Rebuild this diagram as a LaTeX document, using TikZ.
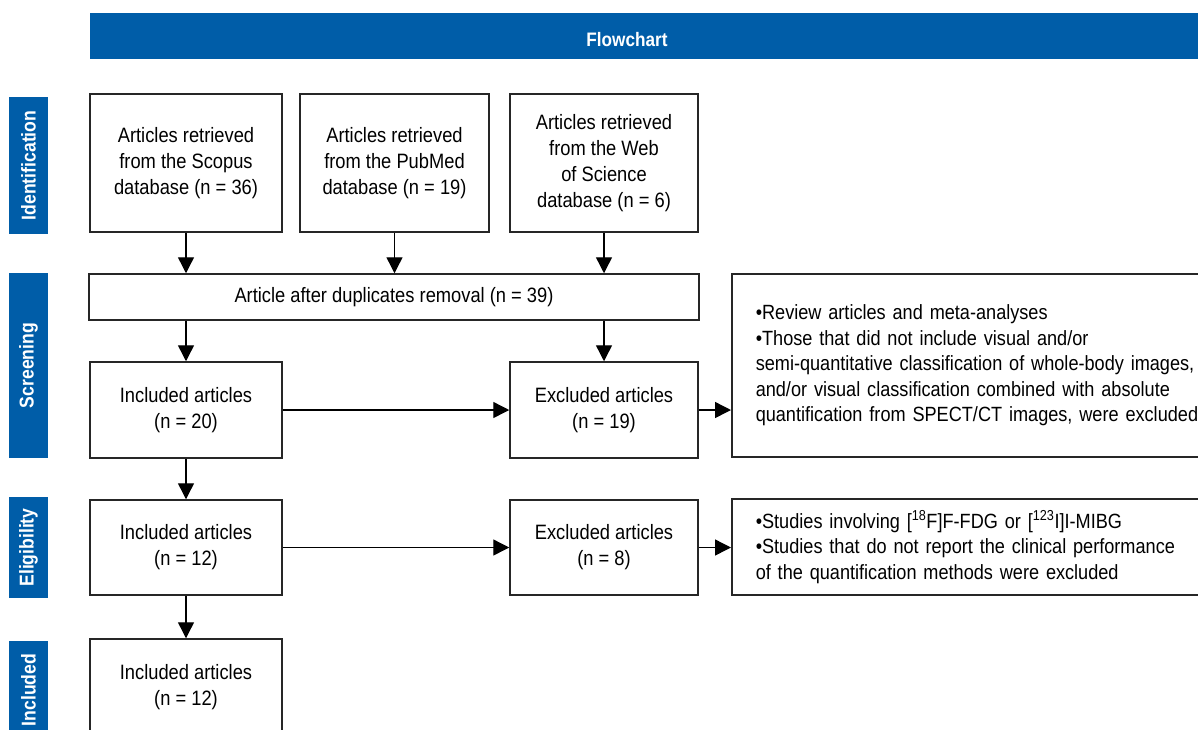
\documentclass[tikz,border=0pt]{standalone}
\usepackage{fontspec}
\setmainfont{Liberation Sans}[FakeStretch=0.88]
\usetikzlibrary{arrows.meta}
\definecolor{barblue}{HTML}{005DA8}
\begin{document}
\begin{tikzpicture}[x=1pt, y=-1pt,
    box/.style={draw=black!85, line width=1.5pt, inner sep=0pt, align=center, font=\fontsize{20.8}{26}\selectfont},
    note/.style={draw=black!85, line width=1.5pt, inner xsep=24pt, inner ysep=0pt, anchor=west, align=left, text width=445pt, font=\fontsize{20.6}{25.5}\selectfont},
    phase/.style={fill=barblue, text=white, rotate=90, inner sep=0pt, minimum height=39pt, font=\fontsize{20}{22}\selectfont\bfseries},
    arr/.style={line width=1.4pt, -{Triangle[width=16pt,length=16pt]}}]
    \useasboundingbox (0,0) rectangle (1198,729);
    \clip (0,0) rectangle (1198,729);
    % title bar
    \node [fill=barblue, minimum width=1130pt, minimum height=46pt, inner sep=0pt] (bar) at (655,36) {};
    \node [text=white, font=\fontsize{19.5}{22}\selectfont\bfseries] (title) at (627,40) {Flowchart};
    % phases
    \node [phase, minimum width=137pt] (ident) at (28.5,165.5) {Identification};
    \node [phase, minimum width=185pt] (screen) at (28.5,365.5) {Screening};
    \node [phase, minimum width=101pt] (elig) at (28.5,547.5) {Eligibility};
    \node [phase, minimum width=98pt] (incl) at (28.5,690) {Included};
    % identification
    \node [box, minimum width=192pt, minimum height=138pt] (scopus) at (186,163) {Articles retrieved\\from the Scopus\\database (n = 36)};
    \node [box, minimum width=189pt, minimum height=138pt] (pubmed) at (394.5,163) {Articles retrieved\\from the PubMed\\database (n = 19)};
    \node [box, minimum width=188pt, minimum height=138pt] (wos) at (604,163) {Articles retrieved\\from the Web\\of Science\\database (n = 6)};
    % screening
    \node [box, minimum width=610pt, minimum height=46pt] (dedup) at (394,297) {Article after duplicates removal (n = 39)};
    \node [box, minimum width=192pt, minimum height=96pt] (inc1) at (186,410) {Included articles\\(n = 20)};
    \node [box, minimum width=188pt, minimum height=96pt] (exc1) at (604,410) {Excluded articles\\(n = 19)};
    \node [note, minimum height=183pt] (why1) at (731,365.5) {\textbullet Review articles and meta-analyses\\\textbullet Those that did not include visual and/or\\semi-quantitative classification of whole-body images,\\and/or visual classification combined with absolute\\quantification from SPECT/CT images, were excluded};
    % eligibility
    \node [box, minimum width=192pt, minimum height=95pt] (inc2) at (186,547.5) {Included articles\\(n = 12)};
    \node [box, minimum width=188pt, minimum height=95pt] (exc2) at (604,547.5) {Excluded articles\\(n = 8)};
    \node [note, minimum height=96pt] (why2) at (731,547) {\textbullet Studies involving [\textsuperscript{18}F]F-FDG or [\textsuperscript{123}I]I-MIBG\\\textbullet Studies that do not report the clinical performance\\of the quantification methods were excluded};
    % included
    \node [box, minimum width=192pt, minimum height=96pt] (inc3) at (186,687) {Included articles\\(n = 12)};
    % arrows
    \draw [arr] (scopus) -- (scopus |- dedup.north);
    \draw [arr] (pubmed) -- (pubmed |- dedup.north);
    \draw [arr] (wos) -- (wos |- dedup.north);
    \draw [arr] (dedup.south -| inc1) -- (inc1);
    \draw [arr] (dedup.south -| exc1) -- (exc1);
    \draw [arr] (inc1) -- (exc1);
    \draw [arr] (exc1) -- (why1.west |- exc1);
    \draw [arr] (inc1) -- (inc2);
    \draw [arr] (inc2) -- (exc2);
    \draw [arr] (exc2) -- (why2.west |- exc2);
    \draw [arr] (inc2) -- (inc3);
\end{tikzpicture}
\end{document}
